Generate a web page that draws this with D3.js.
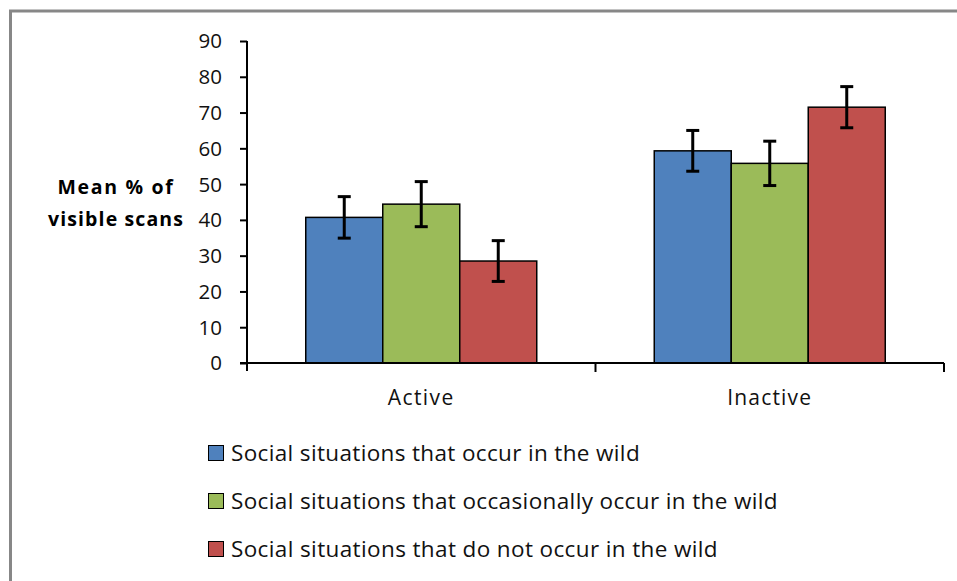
<!DOCTYPE html>
<html><head><meta charset="utf-8">
<script src="https://cdn.jsdelivr.net/npm/d3@7"></script>
<style>
html,body{margin:0;padding:0;background:#fff;}
svg{display:block;font-family:"Open Sans",Lato,sans-serif;}
</style></head>
<body>
<svg id="chart" width="957" height="581"></svg>
<script>
const categories = ["Active", "Inactive"];
const seriesNames = [
  "Social situations that occur in the wild",
  "Social situations that occasionally occur in the wild",
  "Social situations that do not occur in the wild"
];
const seriesColors = ["#4f81bd", "#9bbb59", "#c0504d"];
// values[series][category]
const occurValues = [40.7, 59.3];
const occasionalValues = [44.4, 55.8];
const notOccurValues = [28.5, 71.5];
const occurErrors = [5.8, 5.7];
const occasionalErrors = [6.3, 6.2];
const notOccurErrors = [5.7, 5.75];
const yTicks = [0, 10, 20, 30, 40, 50, 60, 70, 80, 90];
const yLabelLines = ["Mean % of", "visible scans"];

const seriesValues = [occurValues, occasionalValues, notOccurValues];
const seriesErrors = [occurErrors, occasionalErrors, notOccurErrors];

const svg = d3.select("#chart");

// fit a text element to a target width by letter spacing
function fitWidth(sel, w) {
  sel.each(function() {
    const n = this.getNumberOfChars();
    const cur = this.getComputedTextLength();
    if (n > 1) d3.select(this).attr("letter-spacing", (w - cur) / n);
  });
}

// frame
svg.append("rect").attr("x", 10.5).attr("y", 11).attr("width", 960).attr("height", 600)
  .attr("fill", "none").attr("stroke", "#878787").attr("stroke-width", 3);

const x0 = d3.scaleBand().domain(categories).range([247, 944]).paddingInner(0).paddingOuter(0);
const x1 = d3.scaleBand().domain(d3.range(seriesNames.length)).range([0, x0.bandwidth()])
  .paddingInner(0).paddingOuter(0.763);
const y = d3.scaleLinear().domain([0, 90]).range([363, 41]);

// y axis
const yAxis = svg.append("g").attr("transform", "translate(247,0)")
  .call(d3.axisLeft(y).tickValues(yTicks).tickSize(7).tickSizeOuter(0).tickPadding(18));
yAxis.select(".domain").remove();
yAxis.selectAll(".tick line").attr("stroke", "#000").attr("stroke-width", 2);
yAxis.selectAll(".tick text").attr("font-size", 20.5).attr("fill", "#111")
  .attr("font-family", "'Open Sans', sans-serif").attr("dy", "0.34em");
svg.append("line").attr("x1", 247).attr("x2", 247).attr("y1", y(90)).attr("y2", y(0) + 8)
  .attr("stroke", "#000").attr("stroke-width", 2);

// y label
yLabelLines.forEach((t, i) => {
  const el = svg.append("text").attr("text-anchor", "middle").attr("font-weight", "bold")
    .attr("font-size", 19.5).attr("fill", "#000").attr("x", 116).attr("y", 194 + i * 32).text(t);
  fitWidth(el, i === 0 ? 117 : 136);
});

// bars
const groups = svg.append("g").selectAll("g").data(categories).join("g")
  .attr("transform", d => `translate(${x0(d)},0)`);
groups.each(function(cat, ci) {
  const g = d3.select(this);
  seriesNames.forEach((s, si) => {
    const v = seriesValues[si][ci];
    g.append("rect").attr("x", x1(si)).attr("width", x1.bandwidth())
      .attr("y", y(v)).attr("height", y(0) - y(v))
      .attr("fill", seriesColors[si]).attr("stroke", "#000").attr("stroke-width", 1.5);
  });
});
// error bars
groups.each(function(cat, ci) {
  const g = d3.select(this);
  seriesNames.forEach((s, si) => {
    const v = seriesValues[si][ci], e = seriesErrors[si][ci];
    const cx = x1(si) + x1.bandwidth() / 2;
    g.append("line").attr("x1", cx).attr("x2", cx).attr("y1", y(v + e)).attr("y2", y(v - e))
      .attr("stroke", "#000").attr("stroke-width", 3);
    [v + e, v - e].forEach(t => g.append("line").attr("x1", cx - 6.5).attr("x2", cx + 6.5)
      .attr("y1", y(t)).attr("y2", y(t)).attr("stroke", "#000").attr("stroke-width", 3));
  });
});

// x axis
svg.append("line").attr("x1", 240).attr("x2", x0.range()[1]).attr("y1", y(0)).attr("y2", y(0))
  .attr("stroke", "#000").attr("stroke-width", 2);
categories.forEach(c => {
  const xe = x0(c) + x0.bandwidth();
  svg.append("line").attr("x1", xe).attr("x2", xe).attr("y1", y(0)).attr("y2", y(0) + 9)
    .attr("stroke", "#000").attr("stroke-width", 2);
});
const xAxis = svg.append("g").attr("transform", `translate(0,${y(0)})`)
  .call(d3.axisBottom(x0).tickSize(0).tickPadding(27));
xAxis.select(".domain").remove();
xAxis.selectAll(".tick text").attr("font-size", 21).attr("fill", "#111")
  .attr("font-family", "'Open Sans', sans-serif")
  .each(function(d) { fitWidth(d3.select(this), d === "Active" ? 67 : 85); });

// legend
const legendWidths = [409, 547, 487];
const leg = svg.append("g");
seriesNames.forEach((s, i) => {
  const cy = 453 + i * 48;
  leg.append("rect").attr("x", 208.5).attr("y", cy - 7.5).attr("width", 15).attr("height", 15)
    .attr("fill", seriesColors[i]).attr("stroke", "#000").attr("stroke-width", 1);
  const t = leg.append("text").attr("x", 231).attr("y", cy + 8).attr("font-size", 22.5).attr("fill", "#111")
    .text(s);
  fitWidth(t, legendWidths[i]);
});
</script>
</body></html>
